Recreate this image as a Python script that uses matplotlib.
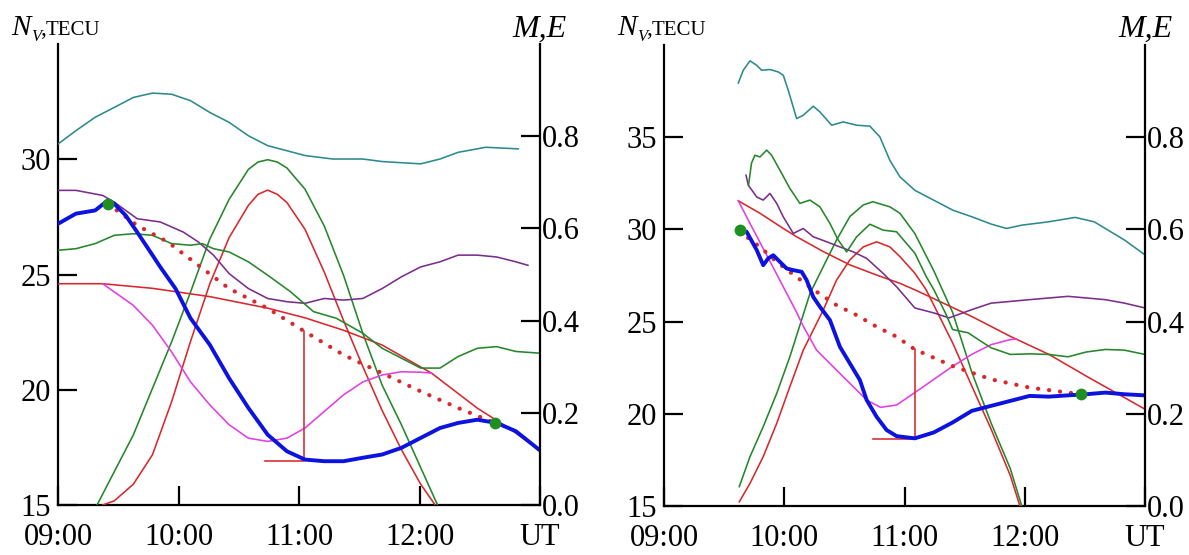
import matplotlib
matplotlib.use("Agg")
import matplotlib.pyplot as plt

plt.rcParams['font.family'] = ['Liberation Serif', 'DejaVu Serif']

# ---------------- data: left panel ----------------
L_teal_t = [9.0, 9.149, 9.308, 9.467, 9.625, 9.784, 9.943, 10.10, 10.26, 10.42, 10.58, 10.74, 10.90, 11.05, 11.28, 11.53, 11.69, 12.01, 12.17, 12.32, 12.55, 12.82]
L_teal_v = [30.66, 31.24, 31.82, 32.25, 32.68, 32.87, 32.82, 32.54, 32.03, 31.60, 31.02, 30.59, 30.37, 30.16, 30.01, 30.01, 29.90, 29.80, 30.01, 30.30, 30.52, 30.45]

L_purple_t = [9.0, 9.149, 9.371, 9.467, 9.657, 9.848, 10.04, 10.165, 10.29, 10.42, 10.58, 10.74, 10.90, 11.05, 11.21, 11.37, 11.53, 11.69, 11.85, 12.01, 12.17, 12.32, 12.48, 12.64, 12.80, 12.90]
L_purple_v = [28.65, 28.65, 28.43, 28.14, 27.42, 27.28, 26.84, 26.41, 25.84, 25.04, 24.39, 23.96, 23.82, 23.75, 23.96, 23.89, 23.96, 24.39, 24.90, 25.33, 25.55, 25.84, 25.84, 25.76, 25.55, 25.40]

L_green_t = [9.0, 9.149, 9.308, 9.467, 9.625, 9.784, 9.943, 10.10, 10.197, 10.29, 10.42, 10.58, 10.74, 10.93, 11.12, 11.31, 11.53, 11.69, 11.85, 12.01, 12.17, 12.32, 12.48, 12.64, 12.80, 12.99]
L_green_v = [26.05, 26.12, 26.34, 26.70, 26.77, 26.70, 26.34, 26.27, 26.34, 26.12, 25.98, 25.55, 24.97, 24.25, 23.39, 23.10, 22.45, 21.80, 21.37, 20.94, 20.94, 21.44, 21.80, 21.87, 21.66, 21.59]

L_blue_t = [9.0, 9.149, 9.308, 9.413, 9.467, 9.562, 9.657, 9.784, 9.848, 9.975, 10.10, 10.26, 10.42, 10.58, 10.74, 10.90, 11.05, 11.21, 11.37, 11.53, 11.69, 11.85, 12.01, 12.17, 12.32, 12.48, 12.64, 12.80, 12.99]
L_blue_v = [27.20, 27.64, 27.78, 28.21, 28.07, 27.56, 26.84, 25.84, 25.33, 24.39, 23.10, 21.95, 20.50, 19.21, 18.05, 17.33, 16.97, 16.90, 16.90, 17.05, 17.19, 17.48, 17.91, 18.34, 18.56, 18.70, 18.56, 18.20, 17.41]

L_dot_t = [9.413, 9.657, 9.911, 10.165, 10.42, 10.74, 11.05, 11.37, 11.69, 12.01, 12.32, 12.625]
L_dot_v = [28.07, 27.13, 26.41, 25.40, 24.39, 23.53, 22.52, 21.51, 20.72, 19.93, 19.21, 18.56]

L_marks_t = [9.413, 12.625]
L_marks_v = [28.07, 18.56]

L_bar_t = [10.72, 11.044, 11.044]
L_bar_v = [16.93, 16.93, 22.55]

L_redsm_t = [9.0, 9.371, 9.784, 10.26, 10.74, 11.05, 11.37, 11.69, 12.10, 12.48, 12.74, 12.99]
L_redsm_m = [0.480, 0.480, 0.470, 0.452, 0.427, 0.406, 0.379, 0.347, 0.286, 0.210, 0.167, 0.120]

L_mag_t = [9.371, 9.625, 9.784, 9.943, 10.10, 10.26, 10.42, 10.58, 10.74, 10.90, 11.05, 11.21, 11.37, 11.53, 11.69, 11.85, 12.01, 12.10]
L_mag_m = [0.480, 0.433, 0.390, 0.332, 0.267, 0.217, 0.174, 0.145, 0.138, 0.145, 0.167, 0.203, 0.239, 0.267, 0.282, 0.289, 0.288, 0.286]

L_E_t = [9.324, 9.625, 9.943, 10.10, 10.26, 10.42, 10.58, 10.66, 10.74, 10.82, 10.90, 11.05, 11.21, 11.37, 11.53, 11.69, 11.85, 12.01, 12.15]
L_E_m = [0.0, 0.152, 0.354, 0.462, 0.577, 0.663, 0.728, 0.744, 0.749, 0.744, 0.731, 0.685, 0.605, 0.498, 0.372, 0.260, 0.174, 0.081, 0.0]

L_M_t = [9.371, 9.467, 9.625, 9.784, 9.943, 10.10, 10.26, 10.42, 10.58, 10.66, 10.74, 10.82, 10.90, 11.05, 11.21, 11.37, 11.53, 11.69, 11.85, 12.01, 12.13]
L_M_m = [0.0, 0.009, 0.045, 0.109, 0.224, 0.355, 0.480, 0.580, 0.650, 0.674, 0.683, 0.674, 0.656, 0.598, 0.505, 0.400, 0.300, 0.205, 0.120, 0.045, 0.0]

# ---------------- data: right panel ----------------
R_teal_t = [9.618, 9.659, 9.715, 9.771, 9.812, 9.881, 9.950, 9.992, 10.033, 10.103, 10.158, 10.241, 10.297, 10.394, 10.490, 10.602, 10.712, 10.795, 10.878, 10.962, 11.086, 11.244, 11.403, 11.562, 11.72, 11.848, 11.975, 12.197, 12.419, 12.578, 12.83, 13.0]
R_teal_v = [37.94, 38.63, 39.14, 38.90, 38.63, 38.67, 38.54, 38.36, 37.55, 36.01, 36.19, 36.68, 36.37, 35.65, 35.83, 35.65, 35.60, 35.02, 33.75, 32.85, 32.12, 31.58, 31.04, 30.68, 30.29, 30.05, 30.23, 30.41, 30.65, 30.41, 29.42, 28.62]

R_green_t = [9.703, 9.728, 9.756, 9.798, 9.854, 9.895, 9.964, 10.047, 10.130, 10.214, 10.297, 10.380, 10.449, 10.519, 10.602, 10.712, 10.823, 10.934, 11.086, 11.18, 11.244, 11.34, 11.40, 11.53, 11.62, 11.72, 11.88, 12.04, 12.20, 12.36, 12.51, 12.67, 12.83, 13.0]
R_green_v = [32.40, 33.60, 34.02, 33.93, 34.30, 34.02, 33.21, 32.22, 31.41, 31.59, 31.22, 30.32, 29.42, 28.78, 29.60, 30.28, 29.96, 29.87, 28.71, 27.45, 26.73, 25.47, 24.57, 24.39, 24.0, 23.58, 23.22, 23.25, 23.22, 23.09, 23.35, 23.49, 23.45, 23.22]

R_purple_t = [9.682, 9.701, 9.771, 9.825, 9.881, 9.937, 9.992, 10.075, 10.158, 10.241, 10.352, 10.463, 10.574, 10.685, 10.823, 10.934, 11.086, 11.244, 11.37, 11.56, 11.72, 12.04, 12.36, 12.67, 12.83, 13.0]
R_purple_v = [32.94, 32.40, 31.76, 31.59, 31.95, 31.41, 30.68, 29.78, 30.05, 29.60, 29.33, 29.05, 28.78, 28.43, 27.61, 26.89, 25.74, 25.47, 25.20, 25.65, 26.0, 26.19, 26.37, 26.19, 26.0, 25.74]

R_blue_t = [9.632, 9.687, 9.771, 9.825, 9.867, 9.909, 9.950, 10.020, 10.075, 10.145, 10.186, 10.241, 10.297, 10.380, 10.463, 10.546, 10.629, 10.685, 10.768, 10.851, 10.934, 11.02, 11.086, 11.244, 11.40, 11.56, 11.72, 11.88, 12.04, 12.20, 12.36, 12.51, 12.67, 12.83, 13.0]
R_blue_v = [29.99, 29.87, 28.88, 28.06, 28.43, 28.60, 28.33, 27.88, 27.79, 27.70, 27.25, 26.34, 25.80, 25.08, 23.63, 22.73, 21.83, 20.75, 19.84, 19.12, 18.79, 18.72, 18.67, 18.99, 19.53, 20.16, 20.43, 20.70, 20.97, 20.93, 21.0, 21.06, 21.15, 21.06, 21.0]

R_dot_t = [9.632, 9.687, 9.812, 9.937, 10.10, 10.269, 10.435, 10.602, 10.768, 10.934, 11.086, 11.40, 11.72, 12.04, 12.36, 12.467]
R_dot_v = [29.95, 29.60, 28.97, 28.24, 27.43, 26.62, 25.89, 25.35, 24.72, 24.18, 23.49, 22.59, 21.87, 21.42, 21.15, 21.06]

R_marks_t = [9.632, 12.467]
R_marks_v = [29.95, 21.06]

R_bar_t = [10.735, 11.086, 11.086]
R_bar_v = [18.65, 18.65, 23.49]

R_redsm_t = [9.618, 9.798, 9.992, 10.103, 10.324, 10.546, 10.768, 10.962, 11.086, 11.56, 11.88, 12.20, 12.51, 12.83, 13.0]
R_redsm_m = [0.662, 0.635, 0.602, 0.584, 0.552, 0.523, 0.501, 0.483, 0.469, 0.411, 0.368, 0.329, 0.282, 0.235, 0.210]

R_mag_t = [9.618, 9.715, 9.937, 10.103, 10.158, 10.269, 10.407, 10.546, 10.685, 10.80, 10.934, 11.086, 11.40, 11.56, 11.72, 11.88, 11.93]
R_mag_m = [0.662, 0.613, 0.503, 0.420, 0.390, 0.338, 0.302, 0.266, 0.230, 0.214, 0.219, 0.246, 0.303, 0.329, 0.350, 0.361, 0.362]

R_E_t = [9.626, 9.715, 9.825, 9.937, 10.047, 10.214, 10.324, 10.435, 10.546, 10.657, 10.737, 10.878, 10.962, 11.086, 11.244, 11.40, 11.56, 11.72, 11.88, 11.975]
R_E_m = [0.042, 0.107, 0.172, 0.244, 0.324, 0.461, 0.519, 0.577, 0.628, 0.653, 0.660, 0.649, 0.635, 0.591, 0.510, 0.420, 0.290, 0.180, 0.081, 0.0]

R_M_t = [9.626, 9.715, 9.825, 9.937, 10.047, 10.158, 10.324, 10.435, 10.546, 10.657, 10.768, 10.878, 10.962, 11.086, 11.18, 11.40, 11.56, 11.72, 11.88, 11.96]
R_M_m = [0.009, 0.049, 0.107, 0.179, 0.259, 0.338, 0.425, 0.490, 0.534, 0.562, 0.573, 0.562, 0.541, 0.505, 0.469, 0.354, 0.260, 0.167, 0.066, 0.0]

x_ticks = [9, 10, 11, 12, 13]
x_labels = ['09:00', '10:00', '11:00', '12:00', 'UT']
L_yticks = [15, 20, 25, 30]
R_yticks = [15, 20, 25, 30, 35]
me_ticks = [0.0, 0.2, 0.4, 0.6, 0.8]
me_labels = ['0.0', '0.2', '0.4', '0.6', '0.8']

# ---------------- styles ----------------
C_TEAL = '#2b8a8e'
C_PURPLE = '#7a2d8c'
C_GREEN = '#25862a'
C_RED = '#d8282c'
C_MAG = '#e23ee2'
C_BLUE = '#0c12e0'
C_DOT = '#1f8f22'
TH = 1.15
FS = 22

fig = plt.figure(figsize=(11.89, 5.55), dpi=100)


def panel(rect, ylim, yticks, d):
    ax = fig.add_axes(rect)
    ax2 = ax.twinx()
    ax.set_xlim(9, 13)
    ax.set_ylim(*ylim)
    ax2.set_ylim(0, 1.0)
    for a in (ax, ax2):
        a.patch.set_visible(False)
        a.spines['top'].set_visible(False)
    ax.spines['right'].set_visible(False)
    ax2.spines['left'].set_visible(False)
    ax2.spines['bottom'].set_visible(False)
    for sp in ['left', 'bottom']:
        ax.spines[sp].set_linewidth(1.6)
    ax2.spines['right'].set_linewidth(1.6)
    ax.set_xticks(x_ticks)
    ax.set_xticklabels(x_labels)
    ax.set_yticks(yticks)
    ax2.set_yticks(me_ticks)
    ax2.set_yticklabels(me_labels)
    ax.tick_params(axis='y', direction='in', length=13.5, width=1.6, labelsize=FS, pad=5)
    ax.tick_params(axis='x', direction='in', length=13.5, width=1.6, labelsize=FS, pad=13)
    ax2.tick_params(axis='y', direction='in', length=13.5, width=1.6, labelsize=FS, pad=1.5)

    # M, E curves on the right axis
    ax2.plot(d['E_t'], d['E_m'], color=C_GREEN, lw=TH)
    ax2.plot(d['M_t'], d['M_m'], color=C_RED, lw=TH)
    ax2.plot(d['redsm_t'], d['redsm_m'], color=C_RED, lw=TH)
    ax2.plot(d['mag_t'], d['mag_m'], color=C_MAG, lw=TH)
    # TEC curves on the left (TECU) axis
    tr = ax.transData
    ax2.plot(d['teal_t'], d['teal_v'], color=C_TEAL, lw=TH, transform=tr)
    ax2.plot(d['purple_t'], d['purple_v'], color=C_PURPLE, lw=TH, transform=tr)
    ax2.plot(d['green_t'], d['green_v'], color=C_GREEN, lw=TH, transform=tr)
    ax2.plot(d['bar_t'], d['bar_v'], color=C_RED, lw=TH, transform=tr)
    ax2.plot(d['dot_t'], d['dot_v'], color=C_RED, lw=3.0, linestyle=(0, (0.05, 2.6)),
             dash_capstyle='round', transform=tr)
    ax2.plot(d['blue_t'], d['blue_v'], color=C_BLUE, lw=2.8, transform=tr,
             solid_joinstyle='round')
    ax2.plot(d['marks_t'], d['marks_v'], 'o', color=C_DOT, ms=8.5, mec='none', transform=tr)
    return ax, ax2


L = dict(teal_t=L_teal_t, teal_v=L_teal_v, purple_t=L_purple_t, purple_v=L_purple_v,
         green_t=L_green_t, green_v=L_green_v, blue_t=L_blue_t, blue_v=L_blue_v,
         dot_t=L_dot_t, dot_v=L_dot_v, marks_t=L_marks_t, marks_v=L_marks_v,
         bar_t=L_bar_t, bar_v=L_bar_v, redsm_t=L_redsm_t, redsm_m=L_redsm_m,
         mag_t=L_mag_t, mag_m=L_mag_m, E_t=L_E_t, E_m=L_E_m, M_t=L_M_t, M_m=L_M_m)
R = dict(teal_t=R_teal_t, teal_v=R_teal_v, purple_t=R_purple_t, purple_v=R_purple_v,
         green_t=R_green_t, green_v=R_green_v, blue_t=R_blue_t, blue_v=R_blue_v,
         dot_t=R_dot_t, dot_v=R_dot_v, marks_t=R_marks_t, marks_v=R_marks_v,
         bar_t=R_bar_t, bar_v=R_bar_v, redsm_t=R_redsm_t, redsm_m=R_redsm_m,
         mag_t=R_mag_t, mag_m=R_mag_m, E_t=R_E_t, E_m=R_E_m, M_t=R_M_t, M_m=R_M_m)

W, H = 1189.0, 555.0
panel([58 / W, 50 / H, 482 / W, 461 / H], (15, 35), L_yticks, L)
panel([664 / W, 49 / H, 481 / W, 461 / H], (15, 40), R_yticks, R)

for dx in (0, 606):
    fig.text((11 + dx) / W, 1 - 35 / H, 'N', fontsize=21, style='italic', va='baseline', ha='left')
    fig.text((31 + dx) / W, 1 - 41 / H, 'V', fontsize=12, style='italic', va='baseline', ha='left')
    fig.text((40 + dx) / W, 1 - 35 / H, ',', fontsize=17, va='baseline', ha='left')
    fig.text((46 + dx) / W, 1 - 35 / H, 'TECU', fontsize=15, va='baseline', ha='left')
    fig.text((566 + dx) / W, 1 - 37 / H, 'M,E', fontsize=23, style='italic', va='baseline', ha='right')

fig.savefig('out.png', dpi=100)
